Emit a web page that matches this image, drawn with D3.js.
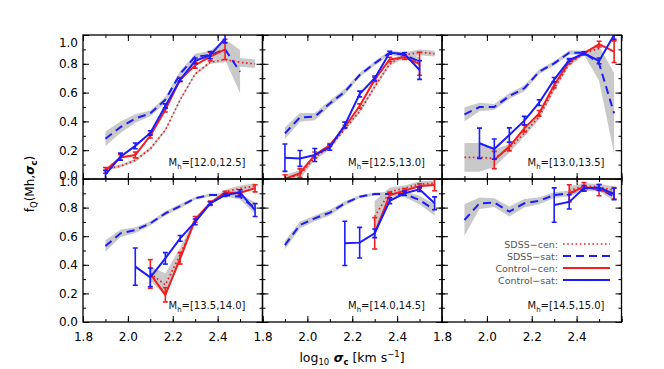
<!DOCTYPE html>
<html><head><meta charset="utf-8">
<script src="https://cdn.jsdelivr.net/npm/d3@7"></script>
<style>body{margin:0;background:#fff} svg{display:block}</style>
</head><body>
<svg id="chart" width="664" height="369"></svg>
<script>
// ---------------- data ----------------
const sigmaBins = [1.9, 1.967, 2.033, 2.1, 2.167, 2.233, 2.3, 2.367, 2.433, 2.5, 2.567];
const massBins = ["[12.0,12.5]", "[12.5,13.0]", "[13.0,13.5]", "[13.5,14.0]", "[14.0,14.5]", "[14.5,15.0]"];
const xTickValues = [1.8, 2.0, 2.2, 2.4];
const yTickValues = [0.0, 0.2, 0.4, 0.6, 0.8, 1.0];
const legendLabels = ["SDSS\u2212cen:", "SDSS\u2212sat:", "Control\u2212cen:", "Control\u2212sat:"];
const N = null;

// SDSS centrals (dotted red) and band half-width
const sdssCen = [
  [0.067, 0.09, 0.13, 0.21, 0.34, 0.55, 0.73, 0.81, 0.83, 0.81, 0.80],
  [0.00, 0.03, 0.15, 0.22, 0.35, 0.47, 0.64, 0.80, 0.86, 0.88, 0.87],
  [0.15, 0.15, 0.143, 0.213, 0.317, 0.433, 0.63, 0.80, 0.873, 0.907, N],
  [N, N, N, 0.34, 0.26, 0.47, 0.71, 0.83, 0.91, 0.935, 0.95],
  [N, N, N, N, N, N, 0.737, 0.91, 0.935, 0.965, 0.97],
  [N, N, N, N, N, N, N, 0.92, 0.95, 0.945, 0.92]
];
const sdssCenErr = [
  [0.01, 0.01, 0.01, 0.01, 0.01, 0.01, 0.01, 0.01, 0.02, 0.03, 0.03],
  [0.03, 0.03, 0.02, 0.015, 0.015, 0.015, 0.015, 0.015, 0.02, 0.02, 0.02],
  [0.1, 0.1, 0.06, 0.03, 0.02, 0.02, 0.02, 0.015, 0.015, 0.02, N],
  [N, N, N, 0.05, 0.08, 0.05, 0.02, 0.015, 0.015, 0.02, 0.02],
  [N, N, N, N, N, N, 0.11, 0.03, 0.02, 0.02, 0.02],
  [N, N, N, N, N, N, N, 0.03, 0.02, 0.02, 0.03]
];
// SDSS satellites (dashed blue) and band half-width
const sdssSat = [
  [0.28, 0.36, 0.42, 0.456, 0.55, 0.73, 0.85, 0.86, 0.90, 0.745, N],
  [0.317, 0.428, 0.433, 0.525, 0.606, 0.722, 0.803, 0.877, 0.861, 0.815, N],
  [0.449, 0.50, 0.50, 0.576, 0.63, 0.745, 0.803, 0.877, 0.877, 0.803, 0.456],
  [0.531, 0.62, 0.643, 0.69, 0.76, 0.81, 0.865, 0.888, 0.888, 0.876, 0.795],
  [0.538, 0.678, 0.725, 0.765, 0.83, 0.876, 0.895, 0.895, 0.895, 0.853, 0.783],
  [0.713, 0.83, 0.835, 0.772, 0.83, 0.848, 0.888, 0.90, 0.935, 0.935, 0.876]
];
const sdssSatErr = [
  [0.05, 0.04, 0.03, 0.02, 0.02, 0.02, 0.02, 0.03, 0.07, 0.15, N],
  [0.04, 0.03, 0.025, 0.02, 0.02, 0.015, 0.015, 0.015, 0.02, 0.03, N],
  [0.05, 0.03, 0.02, 0.02, 0.02, 0.015, 0.015, 0.015, 0.015, 0.12, 0.28],
  [0.04, 0.025, 0.02, 0.015, 0.015, 0.015, 0.01, 0.01, 0.01, 0.02, 0.04],
  [0.03, 0.025, 0.02, 0.02, 0.015, 0.01, 0.01, 0.015, 0.02, 0.03, 0.04],
  [0.11, 0.04, 0.03, 0.035, 0.03, 0.025, 0.02, 0.02, 0.02, 0.02, 0.03]
];
// Control centrals (solid red) with error bars
const ctrlCen = [
  [0.06, 0.15, 0.167, 0.30, 0.48, 0.69, 0.79, 0.85, 0.90, N, N],
  [0.00, 0.04, 0.167, 0.236, 0.363, 0.507, 0.69, 0.83, 0.845, 0.80, N],
  [N, N, 0.132, 0.225, 0.352, 0.456, 0.653, 0.815, 0.873, 0.937, 0.884],
  [N, N, N, 0.336, 0.19, 0.445, 0.718, 0.83, 0.904, 0.904, 0.935],
  [N, N, N, N, N, N, 0.62, 0.888, 0.918, 0.951, 0.958],
  [N, N, N, N, N, N, N, 0.90, 0.946, 0.923, 0.90]
];
const ctrlCenErr = [
  [0.02, 0.02, 0.02, 0.015, 0.015, 0.015, 0.02, 0.03, 0.07, N, N],
  [0.03, 0.03, 0.02, 0.01, 0.01, 0.015, 0.015, 0.015, 0.015, 0.08, N],
  [N, N, 0.06, 0.03, 0.025, 0.02, 0.02, 0.015, 0.01, 0.02, 0.075],
  [N, N, N, 0.1, 0.05, 0.04, 0.02, 0.015, 0.01, 0.01, 0.025],
  [N, N, N, N, N, N, 0.11, 0.02, 0.015, 0.015, 0.04],
  [N, N, N, N, N, N, N, 0.06, 0.03, 0.04, 0.04]
];
// Control satellites (solid blue) with error bars
const ctrlSat = [
  [0.03, 0.155, 0.23, 0.32, 0.507, 0.69, 0.82, 0.86, 0.975, N, N],
  [0.148, 0.143, 0.167, 0.22, 0.375, 0.59, 0.70, 0.877, 0.868, 0.757, N],
  [N, 0.248, 0.208, 0.305, 0.405, 0.53, 0.69, 0.826, 0.873, 0.82, 1.0],
  [N, N, 0.387, 0.312, 0.445, 0.585, 0.70, 0.83, 0.888, 0.905, 0.783],
  [N, N, N, N, 0.55, 0.555, 0.62, 0.848, 0.90, 0.928, 0.83],
  [N, N, N, N, N, N, 0.818, 0.84, 0.935, 0.94, 0.895]
];
const ctrlSatErr = [
  [0.03, 0.025, 0.02, 0.015, 0.015, 0.01, 0.02, 0.025, 0.03, N, N],
  [0.095, 0.055, 0.045, 0.02, 0.02, 0.02, 0.015, 0.01, 0.01, 0.065, N],
  [N, 0.105, 0.07, 0.05, 0.03, 0.02, 0.015, 0.01, 0.01, 0.02, 0.03],
  [N, N, 0.13, 0.065, 0.04, 0.02, 0.02, 0.01, 0.01, 0.02, 0.045],
  [N, N, N, N, 0.155, 0.107, 0.03, 0.02, 0.015, 0.015, 0.045],
  [N, N, N, N, N, N, 0.12, 0.05, 0.02, 0.02, 0.04]
];

// ---------------- drawing ----------------
const RED = "#f51d1d", BLUE = "#1c1cff", BAND = "#c9c9c9";
const FONT = "DejaVu Sans, Verdana, sans-serif";
const svg = d3.select("#chart");
const left0 = 83, panelW = 179.5;
const rowTop = [35, 179], rowH = [144, 143];

function pts(vals, errs) {
  return sigmaBins.map((s, i) => ({x: s, v: vals[i], e: errs ? errs[i] : 0}));
}

for (let p = 0; p < 6; p++) {
  const col = p % 3, row = Math.floor(p / 3);
  const x0 = left0 + col * panelW, y0 = rowTop[row];
  const x = d3.scaleLinear().domain([1.8, 2.6]).range([x0, x0 + panelW]);
  const y = d3.scaleLinear().domain([0, 1]).range([y0 + rowH[row], y0]);
  const g = svg.append("g");
  const clipId = "clip" + p;
  svg.append("clipPath").attr("id", clipId).append("rect")
    .attr("x", x0).attr("y", y0).attr("width", panelW).attr("height", rowH[row]);
  const plot = g.append("g").attr("clip-path", `url(#${clipId})`);

  const area = d3.area().defined(d => d.v != null)
    .x(d => x(d.x)).y0(d => y(d.v - d.e)).y1(d => y(d.v + d.e));
  const line = d3.line().defined(d => d.v != null).x(d => x(d.x)).y(d => y(d.v));

  const sc = pts(sdssCen[p], sdssCenErr[p]);
  const ss = pts(sdssSat[p], sdssSatErr[p]);
  plot.append("path").attr("d", area(sc)).attr("fill", BAND);
  plot.append("path").attr("d", area(ss)).attr("fill", BAND);
  plot.append("path").attr("d", line(sc)).attr("fill", "none").attr("stroke", RED)
    .attr("stroke-width", 1.7).attr("stroke-dasharray", "1.6,2.6");
  plot.append("path").attr("d", line(ss)).attr("fill", "none").attr("stroke", BLUE)
    .attr("stroke-width", 2).attr("stroke-dasharray", "8,5");

  [[ctrlCen[p], ctrlCenErr[p], RED], [ctrlSat[p], ctrlSatErr[p], BLUE]].forEach(([vals, errs, c]) => {
    const d = pts(vals, errs);
    plot.append("path").attr("d", line(d)).attr("fill", "none").attr("stroke", c).attr("stroke-width", 2);
    const eb = plot.append("g").attr("stroke", c).attr("stroke-width", 1.6);
    d.filter(q => q.v != null && q.e).forEach(q => {
      const xx = x(q.x), ya = y(q.v - q.e), yb = y(q.v + q.e);
      eb.append("line").attr("x1", xx).attr("x2", xx).attr("y1", ya).attr("y2", yb);
      eb.append("line").attr("x1", xx - 2.5).attr("x2", xx + 2.5).attr("y1", ya).attr("y2", ya);
      eb.append("line").attr("x1", xx - 2.5).attr("x2", xx + 2.5).attr("y1", yb).attr("y2", yb);
    });
  });

  // axes (ticks inward on all sides)
  const minorX = d3.range(1.8, 2.61, 0.1), minorY = d3.range(0, 1.01, 0.1);
  const majorX = [1.8, 2.0, 2.2, 2.4, 2.6];
  const mk = (axis, tr, vals, size, labels, pad) => {
    const a = axis.tickValues(vals).tickSize(size).tickPadding(pad || 3);
    if (!labels) a.tickFormat("");
    else a.tickFormat(d3.format(".1f"));
    const ag = g.append("g").attr("transform", tr).call(a);
    ag.select(".domain").remove();
    ag.selectAll("line").attr("stroke", "#000").attr("stroke-width", 1);
    ag.selectAll("text").attr("font-family", FONT).attr("font-size", 12).attr("fill", "#000");
    return ag;
  };
  const yb = y0 + rowH[row];
  mk(d3.axisBottom(x), `translate(0,${yb})`, minorX, -3, false);
  mk(d3.axisBottom(x), `translate(0,${yb})`, majorX, -6, false);
  if (row === 1) mk(d3.axisBottom(x), `translate(0,${yb})`, xTickValues, 0, true, 10);
  mk(d3.axisTop(x), `translate(0,${y0})`, minorX, -3, false);
  mk(d3.axisTop(x), `translate(0,${y0})`, majorX, -6, false);
  mk(d3.axisLeft(y), `translate(${x0},0)`, minorY, -3, false);
  mk(d3.axisLeft(y), `translate(${x0},0)`, yTickValues, -6, false);
  if (col === 0) {
    const la = mk(d3.axisLeft(y), `translate(${x0},0)`, yTickValues, 0, true, 5);
    // nudge end labels like the original (top label pushed down, shared-edge labels split)
    la.selectAll("text").attr("dy", d => {
      if (row === 0 && d === 1) return "0.98em";
      if (row === 0 && d === 0) return "0.0em";
      if (row === 1 && d === 1) return "0.52em";
      return "0.32em";
    });
  }
  mk(d3.axisRight(y), `translate(${x0 + panelW},0)`, minorY, -3, false);
  mk(d3.axisRight(y), `translate(${x0 + panelW},0)`, yTickValues, -6, false);

  g.append("rect").attr("x", x0).attr("y", y0).attr("width", panelW).attr("height", rowH[row])
    .attr("fill", "none").attr("stroke", "#000").attr("stroke-width", 1.3);

  // panel label
  const t = g.append("text").attr("x", x0 + panelW - 17).attr("y", yb - 13)
    .attr("text-anchor", "end").attr("font-family", FONT).attr("font-size", 10).attr("fill", "#111");
  t.append("tspan").text("M");
  t.append("tspan").attr("font-size", 7).attr("dy", 2.5).text("h");
  t.append("tspan").attr("dy", -2.5).text("=" + massBins[p]);

  // legend
  if (p === 5) {
    const lg = g.append("g");
    const styles = [[RED, "1.6,2.6", 1.7], [BLUE, "8,5", 2], [RED, null, 2], [BLUE, null, 2]];
    legendLabels.forEach((lab, i) => {
      const ly = 244 + i * 12;
      lg.append("text").attr("x", 558).attr("y", ly + 3.5).attr("text-anchor", "end")
        .attr("font-family", FONT).attr("font-size", 9.5).attr("fill", "#555").text(lab);
      const ln = lg.append("line").attr("x1", 563).attr("x2", 610).attr("y1", ly).attr("y2", ly)
        .attr("stroke", styles[i][0]).attr("stroke-width", styles[i][2]);
      if (styles[i][1]) ln.attr("stroke-dasharray", styles[i][1]);
    });
  }
}

// axis titles
const xt = svg.append("text").attr("x", 352).attr("y", 362).attr("text-anchor", "middle")
  .attr("font-family", FONT).attr("font-size", 12.5);
xt.append("tspan").text("log");
xt.append("tspan").attr("font-size", 8.5).attr("dy", 3).text("10");
xt.append("tspan").attr("dy", -3).attr("font-weight", "bold").attr("font-style", "italic").text(" \u03c3");
xt.append("tspan").attr("font-size", 8.5).attr("dy", 3).attr("font-weight", "bold").text("c");
xt.append("tspan").attr("dy", -3).text(" [km  s");
xt.append("tspan").attr("font-size", 8.5).attr("dy", -5).text("\u22121");
xt.append("tspan").attr("dy", 5).text("]");

const yt = svg.append("text").attr("transform", "translate(34,184) rotate(-90)")
  .attr("text-anchor", "middle").attr("font-family", FONT).attr("font-size", 12);
yt.append("tspan").text("f");
yt.append("tspan").attr("font-size", 8.5).attr("dy", 3).text("Q");
yt.append("tspan").attr("dy", -3).text("(Mh,");
yt.append("tspan").attr("font-weight", "bold").attr("font-style", "italic").text("\u03c3");
yt.append("tspan").attr("font-size", 8.5).attr("dy", 3).attr("font-weight", "bold").text("c");
yt.append("tspan").attr("dy", -3).text(")");
</script>
</body></html>
